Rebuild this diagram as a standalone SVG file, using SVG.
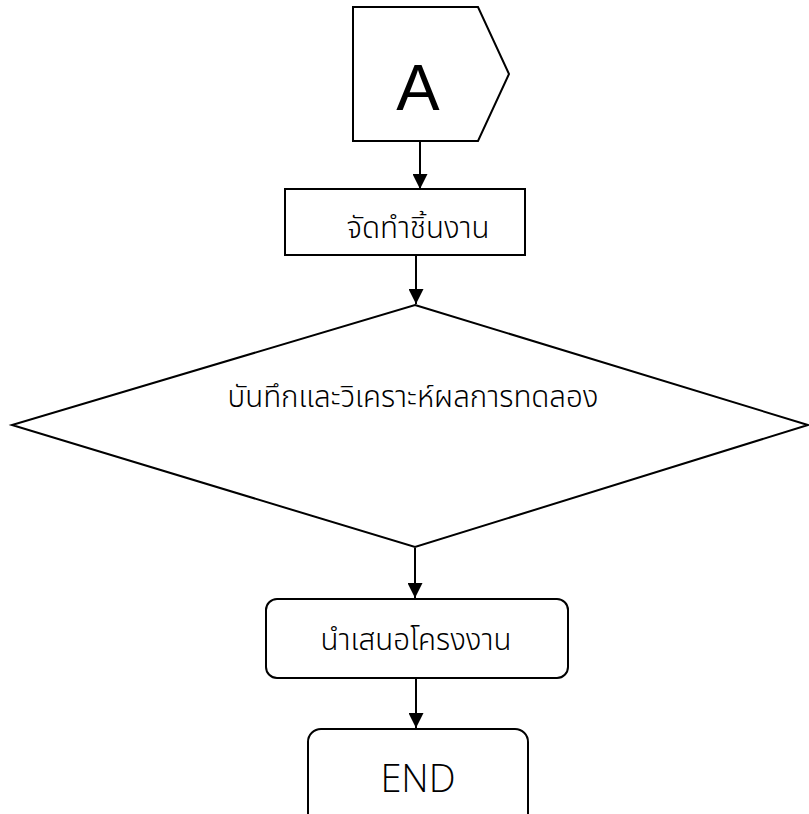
<svg xmlns="http://www.w3.org/2000/svg" width="809" height="814" viewBox="0 0 809 814">
<defs>
<style>
.shape{fill:#fff;stroke:#000;stroke-width:2}
.conn{stroke:#000;stroke-width:2;fill:none}
.th{font-family:"Noto Sans Thai","Noto Sans","DejaVu Sans",sans-serif;font-size:29.5px;font-weight:300;fill:#000;text-anchor:middle}
.lat{font-family:"Open Sans","Noto Sans",sans-serif;font-weight:300;fill:#000;text-anchor:middle}
</style>
<marker id="arr" viewBox="0 0 10 10" refX="10" refY="5" markerWidth="7.5" markerHeight="7.5" markerUnits="strokeWidth" orient="auto">
<path d="M0,0 L10,5 L0,10 Z" fill="#000"/>
</marker>
</defs>
<rect width="809" height="814" fill="#fff"/>
<g id="connectors">
<line class="conn" x1="420" y1="141" x2="420" y2="189" marker-end="url(#arr)"/>
<line class="conn" x1="416" y1="256" x2="416" y2="304" marker-end="url(#arr)"/>
<line class="conn" x1="415" y1="548" x2="415" y2="598" marker-end="url(#arr)"/>
<line class="conn" x1="416" y1="679" x2="416" y2="728" marker-end="url(#arr)"/>
</g>
<g id="nodeA">
<polygon class="shape" points="353,7 478,7 509,74 478,141 353,141"/>
<text x="418" y="110" font-family="Liberation Sans, Arial, sans-serif" font-size="65" text-anchor="middle">A</text>
</g>
<g id="node1">
<rect class="shape" x="285" y="189" width="240" height="66"/>
<text class="th" x="418" y="238">จัดทำชิ้นงาน</text>
</g>
<g id="node2">
<polygon class="shape" points="415,305 808,425 415,547 12,425"/>
<text class="th" x="413" y="407">บันทึกและวิเคราะห์ผลการทดลอง</text>
</g>
<g id="node3">
<rect class="shape" x="266" y="599" width="302" height="79" rx="11" ry="11"/>
<text class="th" x="416" y="650">นำเสนอโครงงาน</text>
</g>
<g id="nodeEnd">
<rect class="shape" x="308" y="729" width="220" height="110" rx="13" ry="13"/>
<text class="lat" x="418" y="792" font-size="38">END</text>
</g>
</svg>
